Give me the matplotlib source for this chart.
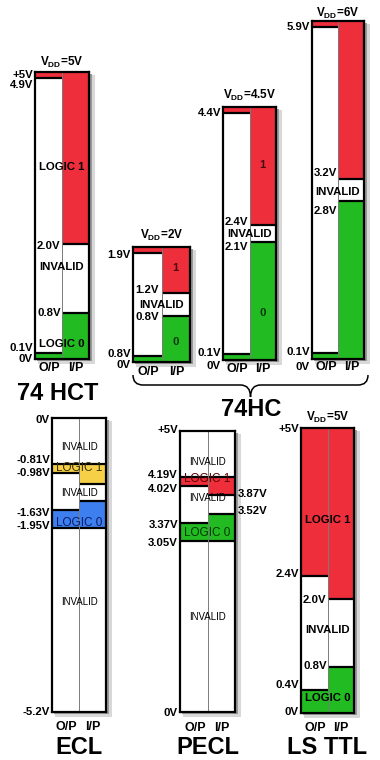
import matplotlib
matplotlib.use('Agg')
import matplotlib.pyplot as plt
from matplotlib import font_manager
from matplotlib.patches import Rectangle, PathPatch
from matplotlib.path import Path

plt.rcParams['font.family'] = ['Liberation Sans', 'DejaVu Sans']
plt.rcParams['mathtext.fontset'] = 'custom'
plt.rcParams['mathtext.rm'] = 'Liberation Sans:bold'
plt.rcParams['mathtext.bf'] = 'Liberation Sans:bold'

RED = '#ee2e3b'
GREEN = '#22bb22'
WHITE = '#ffffff'
YELLOW = '#f6d148'
BLUE = '#3d7fee'

# ---------------- data (volts) ----------------
# 74 HCT, VDD = 5V
hct_vdd = 5.0
hct_out = [4.9, 0.1]          # VOH, VOL
hct_in = [2.0, 0.8]           # VIH, VIL
hct_ticks = [('+5V', 5.0), ('4.9V', 4.9), ('0.1V', 0.1), ('0V', 0.0)]
hct_inner = [('2.0V', 2.0), ('0.8V', 0.8)]
hct_zones = [('LOGIC 1', 3.34), ('INVALID', 1.6), ('LOGIC 0', 0.26)]

# 74HC at VDD = 2V, 4.5V, 6V
hc2_vdd = 2.0
hc2_out = [1.9, 0.1]
hc2_in = [1.2, 0.8]
hc2_ticks = [('1.9V', 1.9), ('0.8V', 0.1), ('0V', 0.0)]
hc2_inner = [('1.2V', 1.2), ('0.8V', 0.8)]
hc2_zones = [('INVALID', 0.99)]
hc2_digits = [('1', 1.63), ('0', 0.35)]

hc45_vdd = 4.5
hc45_out = [4.4, 0.1]
hc45_in = [2.4, 2.1]
hc45_ticks = [('4.4V', 4.4), ('0.1V', 0.1), ('0V', 0.0)]
hc45_inner = [('2.4V', 2.4), ('2.1V', 2.1)]
hc45_zones = [('INVALID', 2.24)]
hc45_digits = [('1', 3.47), ('0', 0.84)]

hc6_vdd = 6.0
hc6_out = [5.9, 0.1]
hc6_in = [3.2, 2.8]
hc6_ticks = [('5.9V', 5.9), ('0.1V', 0.1), ('0V', 0.0)]
hc6_inner = [('3.2V', 3.2), ('2.8V', 2.8)]
hc6_zones = [('INVALID', 2.97)]

# ECL (VEE = -5.2V)
ecl_range = [-5.2, 0.0]
ecl_out = [-0.81, -0.98, -1.63, -1.95]
ecl_in = [-0.81, -1.165, -1.475, -1.95]
ecl_ticks = [('0V', 0.0), ('-0.81V', -0.81), ('-0.98V', -0.98),
             ('-1.63V', -1.63), ('-1.95V', -1.95), ('-5.2V', -5.2)]
ecl_zones = [('INVALID', -0.51), ('LOGIC 1', -0.88), ('INVALID', -1.33),
             ('LOGIC 0', -1.86), ('INVALID', -3.26)]

# PECL (VCC = +5V)
pecl_range = [0.0, 5.0]
pecl_out = [4.19, 4.02, 3.37, 3.05]
pecl_in = [4.19, 3.87, 3.52, 3.05]
pecl_ticks = [('+5V', 5.0), ('4.19V', 4.19), ('4.02V', 4.02),
              ('3.37V', 3.37), ('3.05V', 3.05), ('0V', 0.0)]
pecl_rticks = [('3.87V', 3.87), ('3.52V', 3.52)]
pecl_zones = [('INVALID', 4.45), ('LOGIC 1', 4.15), ('INVALID', 3.81),
              ('LOGIC 0', 3.19), ('INVALID', 1.69)]

# LS TTL, VDD = 5V
ls_vdd = 5.0
ls_out = [2.4, 0.4]
ls_in = [2.0, 0.8]
ls_ticks = [('+5V', 5.0), ('2.4V', 2.4), ('0.4V', 0.4), ('0V', 0.0)]
ls_inner = [('2.0V', 2.0), ('0.8V', 0.8)]
ls_zones = [('LOGIC 1', 3.39), ('INVALID', 1.46), ('LOGIC 0', 0.26)]

# ---------------- figure ----------------
W, H = 380, 760
fig = plt.figure(figsize=(W / 100, H / 100), dpi=100)
bg = fig.add_axes([0, 0, 1, 1])
bg.set_xlim(0, W)
bg.set_ylim(H, 0)
bg.axis('off')

names = {f.name for f in font_manager.fontManager.ttflist}
if 'Liberation Sans Narrow' in names:
    TITLE = dict(family='Liberation Sans Narrow', fontsize=20, fontweight='bold')
else:
    TITLE = dict(family='Liberation Sans', fontsize=17, fontweight='bold')

LBL = dict(fontsize=8.2, fontweight='bold')


def ttl_bands(vdd, hi, lo):
    return [(hi, vdd, RED), (lo, hi, WHITE), (0, lo, GREEN)]


def ecl_bands(rng, lv, c1, c0):
    a, b, c, d = lv
    return [(a, rng[1], WHITE), (b, a, c1), (c, b, WHITE), (d, c, c0), (rng[0], d, WHITE)]


def panel(box, vlim, op, ip):
    l, t, r, b = box
    bg.add_patch(Rectangle((l + 3, t + 3), r - l + 3, b - t + 2, color='#d8d8d8', lw=0))
    bg.add_patch(Rectangle((l + 2, t + 2), r - l + 1, b - t, color='#999999', lw=0))
    ax = fig.add_axes([l / W, 1 - b / H, (r - l) / W, (b - t) / H])
    ax.set_xlim(0, 2)
    ax.set_ylim(*vlim)
    ax.set_xticks([])
    ax.set_yticks([])
    for s in ax.spines.values():
        s.set_linewidth(1.6)
    for col, bands in enumerate([op, ip]):
        for lo, hi, c in bands:
            ax.bar(col + 0.5, hi - lo, bottom=lo, width=1, color=c, lw=0)
        for lo, hi, c in bands[1:]:
            ax.hlines(hi, col, col + 1, color='black', lw=1.6)
    ax.axvline(1, color='#7a7a7a', lw=0.7)
    return ax


def ticks(ax, labels, offs, side='left'):
    x, dx, ha = (0, -2, 'right') if side == 'left' else (1, 3, 'left')
    for (txt, v), dy in zip(labels, offs):
        ax.annotate(txt, xy=(x, v), xycoords=('axes fraction', 'data'),
                    xytext=(dx, -dy), textcoords='offset pixels',
                    ha=ha, va='center', annotation_clip=False, **LBL)


def inner(ax, labels, offs):
    for (txt, v), dy in zip(labels, offs):
        ax.annotate(txt, xy=(0, v), xycoords=('axes fraction', 'data'),
                    xytext=(2, -dy), textcoords='offset pixels',
                    ha='left', va='center', **LBL)


def zones(ax, labels, x=1.0, **kw):
    for txt, v in labels:
        ax.text(x, v, txt, ha='center', va='center', **kw)


def vdd(ax, v, up=11):
    ax.annotate(r'V$_{\mathrm{DD}}$=%gV' % v, xy=(0.5, 1), xycoords='axes fraction',
                xytext=(0, up), textcoords='offset pixels',
                ha='center', va='center', fontsize=8.5, fontweight='bold')


def io(ax, down):
    for x, txt in [(0.27, 'O/P'), (0.76, 'I/P')]:
        ax.annotate(txt, xy=(x, 0), xycoords='axes fraction',
                    xytext=(0, -down), textcoords='offset pixels',
                    ha='center', va='center', fontsize=9, fontweight='bold')


# 74 HCT
ax = panel((35, 72, 89, 359), (0, hct_vdd),
           ttl_bands(hct_vdd, *hct_out), ttl_bands(hct_vdd, *hct_in))
ticks(ax, hct_ticks, [3, 7, -5, 0])
inner(ax, hct_inner, [2, 0])
zones(ax, hct_zones, **LBL)
vdd(ax, hct_vdd, 10)
io(ax, 9)

# 74HC 2V
ax = panel((133, 247, 190, 362), (0, hc2_vdd),
           ttl_bands(hc2_vdd, *hc2_out), ttl_bands(hc2_vdd, *hc2_in))
ticks(ax, hc2_ticks, [2, -2, 3])
inner(ax, hc2_inner, [-3, 1])
zones(ax, hc2_zones, **LBL)
zones(ax, hc2_digits[:1], x=1.5, color='#4a0c0c', **LBL)
zones(ax, hc2_digits[1:], x=1.5, color='#0c3a0c', **LBL)
vdd(ax, hc2_vdd, 12)
io(ax, 10)

# 74HC 4.5V
ax = panel((223, 107, 276, 360), (0, hc45_vdd),
           ttl_bands(hc45_vdd, *hc45_out), ttl_bands(hc45_vdd, *hc45_in))
ticks(ax, hc45_ticks, [0, -1, 6])
inner(ax, hc45_inner, [-3, 5])
zones(ax, hc45_zones, **LBL)
zones(ax, hc45_digits[:1], x=1.5, color='#4a0c0c', **LBL)
zones(ax, hc45_digits[1:], x=1.5, color='#0c3a0c', **LBL)
vdd(ax, hc45_vdd, 12)
io(ax, 9)

# 74HC 6V
ax = panel((312, 21, 364, 359), (0, hc6_vdd),
           ttl_bands(hc6_vdd, *hc6_out), ttl_bands(hc6_vdd, *hc6_in))
ticks(ax, hc6_ticks, [0, -1, 8])
inner(ax, hc6_inner, [-6, 10])
zones(ax, hc6_zones, **LBL)
vdd(ax, hc6_vdd, 8)
io(ax, 8)

# ECL
ax = panel((52, 418, 106, 712), ecl_range,
           ecl_bands(ecl_range, ecl_out, YELLOW, BLUE),
           ecl_bands(ecl_range, ecl_in, YELLOW, BLUE))
ticks(ax, ecl_ticks, [2, -4, 0, 3, -2, 0])
for (txt, v) in ecl_zones:
    if txt == 'INVALID':
        zones(ax, [(txt, v)], fontsize=7)
    else:
        zones(ax, [(txt, v)], fontsize=8.5,
              color='#3a3000' if txt == 'LOGIC 1' else '#0a1a66')
io(ax, 15)

# PECL
ax = panel((180, 431, 235, 712), pecl_range,
           ecl_bands(pecl_range, pecl_out, RED, GREEN),
           ecl_bands(pecl_range, pecl_in, RED, GREEN))
ticks(ax, pecl_ticks, [-1, -2, 3, 2, 2, 1])
ticks(ax, pecl_rticks, [-1, -3], side='right')
for (txt, v) in pecl_zones:
    if txt == 'INVALID':
        zones(ax, [(txt, v)], fontsize=7)
    else:
        zones(ax, [(txt, v)], fontsize=8.5,
              color='#5a0000' if txt == 'LOGIC 1' else '#003800')
io(ax, 16)

# LS TTL
ax = panel((301, 428, 354, 713), (0, ls_vdd),
           ttl_bands(ls_vdd, *ls_out), ttl_bands(ls_vdd, *ls_in))
ticks(ax, ls_ticks, [1, -2, -5, -1])
inner(ax, ls_inner, [1, -1])
zones(ax, ls_zones, **LBL)
vdd(ax, ls_vdd, 11)
io(ax, 15)

# brace under the three 74HC panels
x0, x1 = 133, 368
xm = (x0 + x1) / 2
y0, y1, y2 = 375, 385, 397
verts = [(x0, y0), (x0, y1), (x0 + 10, y1), (xm - 10, y1), (xm, y1), (xm, y2),
         (xm, y1), (xm + 10, y1), (x1 - 10, y1), (x1, y1), (x1, y0)]
codes = [Path.MOVETO, Path.CURVE3, Path.CURVE3, Path.LINETO, Path.CURVE3, Path.CURVE3,
         Path.CURVE3, Path.CURVE3, Path.LINETO, Path.CURVE3, Path.CURVE3]
bg.add_patch(PathPatch(Path(verts, codes), fill=False, lw=1.1, color='black'))

# family names
bg.text(58, 393, '74 HCT', ha='center', va='center', **TITLE)
bg.text(251, 410, '74HC', ha='center', va='center', **TITLE)
bg.text(79, 748, 'ECL', ha='center', va='center', **TITLE)
bg.text(208, 748, 'PECL', ha='center', va='center', **TITLE)
bg.text(327, 748, 'LS TTL', ha='center', va='center', **TITLE)

fig.savefig('out.png', dpi=100)
